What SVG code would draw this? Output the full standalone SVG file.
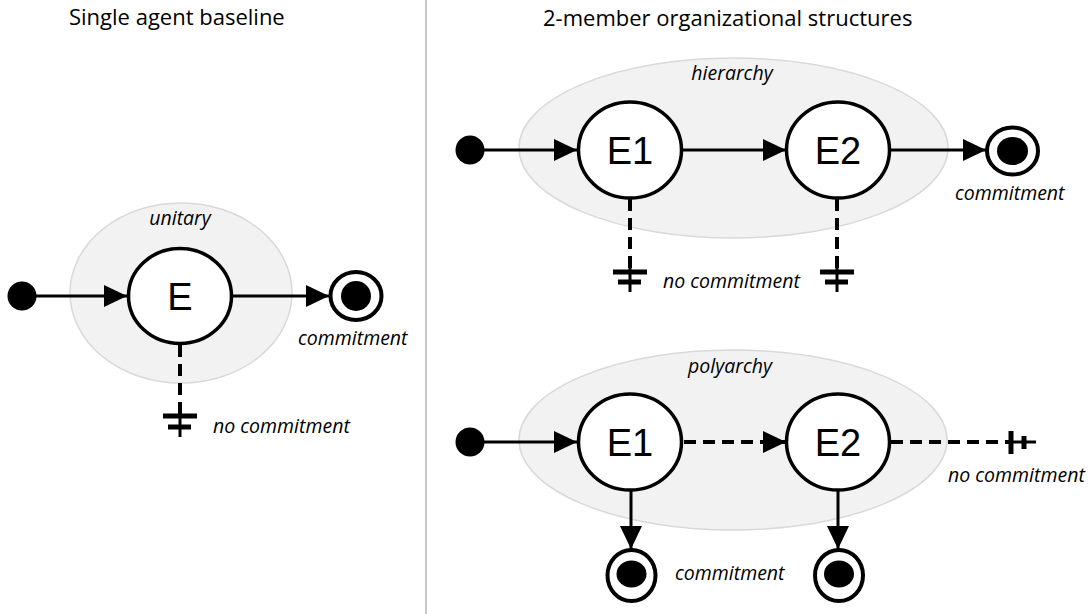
<svg xmlns="http://www.w3.org/2000/svg" width="1091" height="614" viewBox="0 0 1091 614">
<defs>
<style>
.title{font-family:"Open Sans","DejaVu Sans",sans-serif;font-size:22px;fill:#000}
.lbl{font-family:"Open Sans","DejaVu Sans",sans-serif;font-size:19.5px;font-style:italic;fill:#000}
.grp{fill:#f2f2f2;stroke:#d9d9d9;stroke-width:1.5}
.st{fill:#fff;stroke:#000;stroke-width:3.5}
.nm{font-family:"Liberation Sans",Arial,sans-serif;font-size:38px;fill:#000;text-anchor:middle}
.ring{fill:#fff;stroke:#000;stroke-width:4}
.ln{fill:none;stroke:#000;stroke-width:3}
.dl{fill:none;stroke:#000;stroke-width:4;stroke-dasharray:12 7}
.bar{fill:none;stroke:#000;stroke-width:5}
</style>
<marker id="ah" markerUnits="userSpaceOnUse" markerWidth="24" markerHeight="24" viewBox="0 0 24 24" refX="23" refY="12" orient="auto">
<path d="M0,1 L23,12 L0,23 Z" fill="#000"/>
</marker>
</defs>
<rect width="1091" height="614" fill="#fff"/>
<line x1="426" y1="0" x2="426" y2="614" stroke="#c8c8c8" stroke-width="2"/>
<text class="title" x="69" y="25">Single agent baseline</text>
<text class="title" x="543" y="26">2-member organizational structures</text>

<g id="unitary">
<ellipse class="grp" cx="181" cy="293" rx="111" ry="90"/>
<text class="lbl" x="180" y="225" text-anchor="middle">unitary</text>
</g>
<g id="hierarchy">
<ellipse class="grp" cx="733.5" cy="148" rx="214.5" ry="90"/>
<text class="lbl" x="732" y="80" text-anchor="middle">hierarchy</text>
</g>
<g id="polyarchy">
<ellipse class="grp" cx="733" cy="440" rx="214" ry="90"/>
<text class="lbl" x="730" y="373" text-anchor="middle">polyarchy</text>
</g>

<g id="connectors">
<!-- unitary -->
<line class="ln" x1="36" y1="296" x2="127" y2="296" marker-end="url(#ah)"/>
<line class="ln" x1="233" y1="296" x2="329" y2="296" marker-end="url(#ah)"/>
<line class="dl" x1="180" y1="345" x2="180" y2="414"/>
<line class="ln" x1="180" y1="412" x2="180" y2="437" stroke-width="3.5"/>
<line class="bar" x1="163" y1="416" x2="197" y2="416"/>
<line class="bar" x1="168" y1="427" x2="191" y2="427"/>
<!-- hierarchy -->
<line class="ln" x1="484" y1="150" x2="577" y2="150" marker-end="url(#ah)"/>
<line class="ln" x1="682" y1="150" x2="786" y2="150" marker-end="url(#ah)"/>
<line class="ln" x1="890" y1="150" x2="986" y2="150" marker-end="url(#ah)"/>
<line class="dl" x1="630" y1="199" x2="630" y2="270"/>
<line class="ln" x1="630" y1="268" x2="630" y2="292" stroke-width="3.5"/>
<line class="bar" x1="613" y1="272" x2="647" y2="272"/>
<line class="bar" x1="618" y1="282" x2="641" y2="282"/>
<line class="dl" x1="837" y1="199" x2="837" y2="270"/>
<line class="ln" x1="837" y1="268" x2="837" y2="292" stroke-width="3.5"/>
<line class="bar" x1="820" y1="272" x2="854" y2="272"/>
<line class="bar" x1="825" y1="282" x2="848" y2="282"/>
<!-- polyarchy -->
<line class="ln" x1="484" y1="442" x2="577" y2="442" marker-end="url(#ah)"/>
<line class="dl" x1="684" y1="442" x2="786" y2="442" marker-end="url(#ah)"/>
<line class="dl" x1="891" y1="442" x2="1009" y2="442"/>
<line class="ln" x1="1006" y1="442" x2="1036" y2="442" stroke-width="3.5"/>
<line class="bar" x1="1011" y1="431" x2="1011" y2="454"/>
<line class="bar" x1="1024" y1="436" x2="1024" y2="449"/>
<line class="ln" x1="631" y1="491" x2="631" y2="549" marker-end="url(#ah)"/>
<line class="ln" x1="838" y1="491" x2="838" y2="549" marker-end="url(#ah)"/>
</g>

<g id="start-unitary"><circle cx="22" cy="296" r="14.5" fill="#000"/></g>
<g id="node-E"><ellipse class="st" cx="180" cy="296" rx="51.5" ry="47.5"/><text class="nm" x="180" y="310" font-size="40">E</text></g>
<g id="end-unitary"><ellipse class="ring" cx="356" cy="296" rx="25.5" ry="24"/><circle cx="356" cy="296" r="15" fill="#000"/></g>

<g id="start-hierarchy"><circle cx="470" cy="150" r="14.5" fill="#000"/></g>
<g id="node-h-E1"><ellipse class="st" cx="630" cy="150" rx="51.5" ry="48"/><text class="nm" x="630" y="164">E1</text></g>
<g id="node-h-E2"><ellipse class="st" cx="838" cy="150" rx="51.5" ry="48"/><text class="nm" x="838" y="164">E2</text></g>
<g id="end-hierarchy"><ellipse class="ring" cx="1012.5" cy="151" rx="25.5" ry="23.5"/><ellipse cx="1012.5" cy="151" rx="15.5" ry="14" fill="#000"/></g>

<g id="start-polyarchy"><circle cx="470" cy="442" r="14.5" fill="#000"/></g>
<g id="node-p-E1"><ellipse class="st" cx="630" cy="442" rx="51.5" ry="48"/><text class="nm" x="630" y="456">E1</text></g>
<g id="node-p-E2"><ellipse class="st" cx="838" cy="442" rx="51.5" ry="48"/><text class="nm" x="838" y="456">E2</text></g>
<g id="end-p-E1"><ellipse class="ring" cx="631.5" cy="575.5" rx="24" ry="25.5"/><ellipse cx="631.5" cy="574" rx="15" ry="13.5" fill="#000"/></g>
<g id="end-p-E2"><ellipse class="ring" cx="839" cy="575.5" rx="24" ry="25.5"/><ellipse cx="839" cy="574" rx="15" ry="13.5" fill="#000"/></g>

<g id="labels">
<text class="lbl" x="298" y="345">commitment</text>
<text class="lbl" x="213" y="433">no commitment</text>
<text class="lbl" x="955" y="200">commitment</text>
<text class="lbl" x="663" y="288">no commitment</text>
<text class="lbl" x="675" y="580">commitment</text>
<text class="lbl" x="948" y="482">no commitment</text>
</g>
</svg>
